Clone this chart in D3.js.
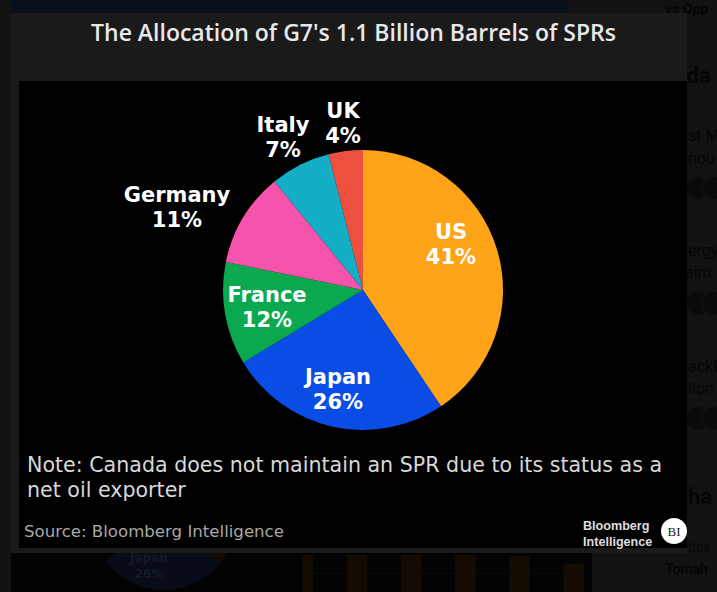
<!DOCTYPE html>
<html><head><meta charset="utf-8">
<script src="https://cdn.jsdelivr.net/npm/d3@7/dist/d3.min.js"></script>
<style>html,body{margin:0;padding:0;background:#121212}svg{display:block}</style>
</head><body><svg id="c" width="717" height="592"></svg>
<script>
const categories=["US","Japan","France","Germany","Italy","UK"];
const shares=[41,26,12,11,7,4];
const colors=["#ffa319","#0a4de6","#0aa84f","#f653ad","#14afc6","#ee5040"];
const labelAt=[[451,246],[338,391],[267,309],[177,209],[283,139],[343,125]];
const title="The Allocation of G7's 1.1 Billion Barrels of SPRs";
const noteLines=["Note: Canada does not maintain an SPR due to its status as a","net oil exporter"];
const source="Source: Bloomberg Intelligence";
const brandLines=["Bloomberg","Intelligence"];
const ghostBarValues=[37,37,37,37,36,28];
const ghostRight=[["oda",674,83,22,"bold"],["st M",688,141,16,"normal"],["nou",688,164,16,"normal"],["ergy",688,256,16,"normal"],["aim",685,278,16,"normal"],["ackR",688,372,16,"normal"],["lion",688,394,16,"normal"],["ha",688,504,22,"bold"],["tics",688,552,14,"normal"],["Tomah",665,574,14,"bold"],["vs Opp",665,14,14,"bold"]];
const ghostDots=[[698,188],[714,188],[698,303],[714,303],[698,418],[714,418]];

const svg=d3.select("#c");
svg.append("rect").attr("width",717).attr("height",592).attr("fill","#121212");
svg.append("rect").attr("x",11).attr("y",0).attr("width",558).attr("height",13).attr("fill","#08101c");
svg.append("rect").attr("x",11).attr("y",548).attr("width",581).attr("height",44).attr("fill","#030303");
const ghostArc=d3.arc().innerRadius(0).outerRadius(72);
const ghostPie=svg.append("g").attr("transform","translate(164,518)");
ghostPie.append("path").attr("d",ghostArc({startAngle:Math.PI*0.72,endAngle:Math.PI*1.3})).attr("fill","#070c18");
ghostPie.append("path").attr("d",ghostArc({startAngle:Math.PI*0.45,endAngle:Math.PI*0.72})).attr("fill","#120c04");
svg.selectAll("text.gp").data(["Japan","26%"]).join("text").attr("class","gp").attr("x",149).attr("y",(d,i)=>562+i*16)
 .attr("text-anchor","middle").attr("font-family","DejaVu Sans").attr("font-weight","bold").attr("font-size",12).attr("fill","#141a26").text(d=>d);
svg.append("defs").append("clipPath").attr("id","gb").append("rect").attr("x",302).attr("y",548).attr("width",290).attr("height",44);
const gx=d3.scaleBand().domain(d3.range(ghostBarValues.length)).range([292.5,584]).paddingInner(0.62).paddingOuter(0);
const gy=d3.scaleLinear().domain([0,37]).range([592,555]);
svg.append("line").attr("x1",302).attr("x2",584).attr("y1",573).attr("y2",573).attr("stroke","#0c0c0c");
svg.append("g").attr("clip-path","url(#gb)").selectAll("rect").data(ghostBarValues).join("rect")
 .attr("x",(d,i)=>gx(i)).attr("width",gx.bandwidth()).attr("y",d=>gy(d)).attr("height",d=>gy(0)-gy(d)).attr("fill","#140b02");
svg.selectAll("circle.gd").data(ghostDots).join("circle").attr("class","gd")
 .attr("cx",d=>d[0]).attr("cy",d=>d[1]).attr("r",12).attr("fill","#0a0a0a").attr("stroke","#121212").attr("stroke-width",1.5);
svg.selectAll("text.gr").data(ghostRight).join("text").attr("class","gr")
 .attr("x",d=>d[1]).attr("y",d=>d[2]).attr("font-size",d=>d[3]).attr("font-weight",d=>d[4])
 .attr("font-family","Roboto").attr("fill","#050505").text(d=>d[0]);

// panel
svg.append("rect").attr("x",11).attr("y",13).attr("width",676).attr("height",540).attr("fill","#1a1a1a");
svg.append("rect").attr("x",19).attr("y",81).attr("width",668).attr("height",467).attr("fill","#000");
svg.append("text").attr("x",353.5).attr("y",41).attr("text-anchor","middle")
 .attr("font-family","Open Sans").attr("font-size",23).attr("font-weight",600).attr("fill","#e8e8ec").text(title);

const pie=d3.pie().sort(null).value(d=>d)(shares);
const arc=d3.arc().innerRadius(0).outerRadius(140);
const g=svg.append("g").attr("transform","translate(363,290)");
g.selectAll("path").data(pie).join("path").attr("d",arc).attr("fill",(d,i)=>colors[i]);

const lab=svg.selectAll("text.l").data(categories).join("text").attr("class","l")
 .attr("text-anchor","middle").attr("font-family","DejaVu Sans").attr("font-weight","bold").attr("font-size",21)
 .attr("fill","#fff");
lab.append("tspan").attr("x",(d,i)=>labelAt[i][0]).attr("y",(d,i)=>labelAt[i][1]-7).text(d=>d);
lab.append("tspan").attr("x",(d,i)=>labelAt[i][0]).attr("y",(d,i)=>labelAt[i][1]+18).text((d,i)=>shares[i]+"%");

svg.selectAll("text.n").data(noteLines).join("text").attr("class","n")
 .attr("x",27).attr("y",(d,i)=>472+i*25).attr("font-family","DejaVu Sans").attr("font-size",20.6).attr("fill","#d8d8d8").text(d=>d);
svg.append("text").attr("x",24).attr("y",537).attr("font-family","DejaVu Sans").attr("font-size",16.6).attr("fill","#a8a8a8").text(source);
svg.selectAll("text.b").data(brandLines).join("text").attr("class","b")
 .attr("x",583).attr("y",(d,i)=>530+i*16).attr("font-family","Liberation Sans").attr("font-weight","bold").attr("font-size",12.6).attr("fill","#dedede").text(d=>d);
svg.append("circle").attr("cx",674).attr("cy",531).attr("r",13).attr("fill","#fff");
svg.append("text").attr("x",674).attr("y",536).attr("text-anchor","middle").attr("font-family","Liberation Serif").attr("font-size",13).attr("fill","#222").text("BI");
</script></body></html>
